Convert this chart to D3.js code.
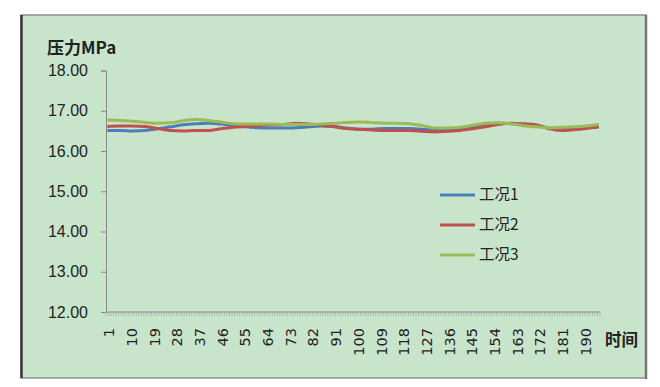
<!DOCTYPE html>
<html>
<head>
<meta charset="utf-8">
<script src="https://cdn.jsdelivr.net/npm/d3@7"></script>
<style>
  body { margin: 0; background: #fff; }
  svg { display: block; }
</style>
</head>
<body>
<svg width="660" height="387"></svg>
<script>
const times = [1, 6, 11, 16, 21, 26, 31, 36, 41, 46, 51, 56, 61, 66, 71, 76, 81, 86, 91, 96,
  101, 106, 111, 116, 121, 126, 131, 136, 141, 146, 151, 156, 161, 166, 171, 176, 181, 186, 191, 196];

const case1 = [16.51, 16.51, 16.50, 16.51, 16.55, 16.60, 16.65, 16.68, 16.69, 16.67,
  16.63, 16.60, 16.58, 16.57, 16.57, 16.58, 16.60, 16.62, 16.61, 16.57,
  16.54, 16.54, 16.56, 16.56, 16.56, 16.54, 16.52, 16.52, 16.55, 16.59,
  16.65, 16.69, 16.68, 16.66, 16.64, 16.57, 16.53, 16.55, 16.57, 16.60];

const case2 = [16.61, 16.62, 16.62, 16.61, 16.56, 16.51, 16.50, 16.51, 16.51, 16.55,
  16.59, 16.61, 16.63, 16.65, 16.66, 16.69, 16.67, 16.64, 16.60, 16.56,
  16.54, 16.52, 16.51, 16.51, 16.51, 16.49, 16.47, 16.49, 16.51, 16.55,
  16.60, 16.66, 16.69, 16.68, 16.65, 16.56, 16.51, 16.53, 16.56, 16.60];

const case3 = [16.77, 16.76, 16.74, 16.71, 16.69, 16.70, 16.75, 16.78, 16.76, 16.72,
  16.68, 16.67, 16.67, 16.67, 16.66, 16.66, 16.66, 16.67, 16.69, 16.71,
  16.72, 16.71, 16.69, 16.69, 16.68, 16.63, 16.57, 16.57, 16.59, 16.64,
  16.69, 16.70, 16.68, 16.63, 16.60, 16.58, 16.59, 16.60, 16.62, 16.66];

const seriesNames = ["工况1", "工况2", "工况3"];
const colors = ["#4a7ebb", "#c0504d", "#9bbb59"];
const yTicks = [12, 13, 14, 15, 16, 17, 18];
const nPoints = 196;
const labelStep = 9;

const svg = d3.select("svg");

// chart frame
svg.append("rect")
  .attr("x", 21).attr("y", 15)
  .attr("width", 625).attr("height", 363)
  .attr("fill", "#c8e5cb")
  .attr("stroke", "#8f8f8f")
  .attr("stroke-width", 1.5);
svg.append("line")
  .attr("x1", 21.5).attr("x2", 21.5).attr("y1", 15).attr("y2", 378)
  .attr("stroke", "#3a3a3a").attr("stroke-width", 2.5);
svg.append("line")
  .attr("x1", 646).attr("x2", 646).attr("y1", 15).attr("y2", 379)
  .attr("stroke", "#777").attr("stroke-width", 2.5);

const categories = d3.range(1, nPoints + 1);
const x = d3.scaleBand().domain(categories).range([106, 600]);
const y = d3.scaleLinear().domain([12, 18]).range([312, 70.5]);

// y axis
const yAxis = svg.append("g")
  .attr("transform", "translate(106,0)")
  .call(d3.axisLeft(y).tickValues(yTicks).tickFormat(d3.format(".2f")).tickSize(5).tickPadding(13));
yAxis.select(".domain").attr("stroke", "#8a8a8a");
yAxis.selectAll(".tick line").attr("stroke", "#8a8a8a");
yAxis.selectAll("text")
  .attr("font-family", "Liberation Sans, Arial, sans-serif")
  .attr("font-size", 16)
  .attr("fill", "#222");

// x axis: a tick on every category boundary
const xg = svg.append("g").attr("transform", "translate(0,312)");
xg.append("line")
  .attr("x1", 106).attr("x2", 600)
  .attr("stroke", "#8a8a8a");
xg.selectAll("line.cat")
  .data(categories.concat([nPoints + 1]))
  .join("line")
  .attr("class", "cat")
  .attr("x1", d => d <= nPoints ? x(d) : x(nPoints) + x.bandwidth())
  .attr("x2", d => d <= nPoints ? x(d) : x(nPoints) + x.bandwidth())
  .attr("y1", 0).attr("y2", 4)
  .attr("stroke", "#9a9a9a").attr("stroke-width", 0.6);

xg.selectAll("text")
  .data(categories.filter(d => (d - 1) % labelStep === 0))
  .join("text")
  .attr("transform", d => `translate(${x(d) + x.bandwidth() / 2 + 2},16) rotate(-90)`)
  .attr("text-anchor", "end")
  .attr("dy", "0.35em")
  .attr("font-family", "DejaVu Sans, sans-serif")
  .attr("font-size", 14.5)
  .attr("fill", "#222")
  .text(d => d);

// titles
svg.append("text")
  .attr("x", 47).attr("y", 54)
  .attr("font-family", "Noto Sans CJK SC, sans-serif")
  .attr("font-weight", "bold")
  .attr("font-size", 17)
  .attr("fill", "#222")
  .text("压力MPa");
svg.append("text")
  .attr("x", 605).attr("y", 346)
  .attr("font-family", "Noto Sans CJK SC, sans-serif")
  .attr("font-weight", "bold")
  .attr("font-size", 16.5)
  .attr("fill", "#222")
  .text("时间");

// lines
const line = d3.line()
  .x(d => x(d[0]) + x.bandwidth() / 2)
  .y(d => y(d[1]))
  .curve(d3.curveMonotoneX);

[case1, case2, case3].forEach((vals, i) => {
  svg.append("path")
    .datum(times.map((t, j) => [t, vals[j]]))
    .attr("fill", "none")
    .attr("stroke", colors[i])
    .attr("stroke-width", 3)
    .attr("d", line);
});

// legend
const legend = svg.append("g").attr("transform", "translate(440,195)");
seriesNames.forEach((name, i) => {
  const g = legend.append("g").attr("transform", `translate(0,${i * 30})`);
  g.append("line")
    .attr("x1", 0).attr("x2", 35)
    .attr("stroke", colors[i]).attr("stroke-width", 3);
  g.append("text")
    .attr("x", 39).attr("dy", "0.35em")
    .attr("font-family", "Noto Sans CJK SC, sans-serif")
    .attr("font-size", 15.5)
    .attr("fill", "#222")
    .text(name);
});
</script>
</body>
</html>
